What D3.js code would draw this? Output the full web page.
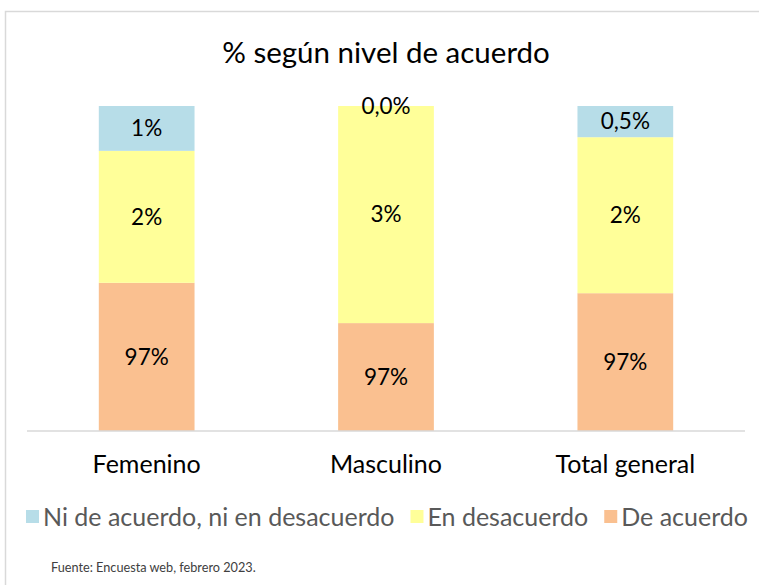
<!DOCTYPE html>
<html>
  <head>
    <meta charset="utf-8">
    <title>% según nivel de acuerdo</title>
    <script src="https://d3js.org/d3.v7.min.js"></script>
  </head>
  <body style="margin:0">
<style>
  body { background: #fff; }
  .frame { fill: none; stroke: #d9d9d9; stroke-width: 1.5; }
  .title { font-family: Lato, sans-serif; font-size: 29.5px; fill: #000; }
  .cat { font-family: Lato, sans-serif; font-size: 25px; fill: #000; }
  .lbl { font-family: Lato, sans-serif; font-size: 22.5px; fill: #000; }
  .legend text { font-family: Lato, sans-serif; font-size: 25px; fill: #595959; }
  .source { font-family: Lato, sans-serif; font-size: 12.7px; fill: #404040; }
</style>
<script>

  // data
  var categories = ["Femenino", "Masculino", "Total general"];
  var seriesNames = ["De acuerdo", "En desacuerdo", "Ni de acuerdo, ni en desacuerdo"];
  var deAcuerdo = [0.9728, 0.9666, 0.9712];
  var enDesacuerdo = [0.0203, 0.0334, 0.0240];
  var niNi = [0.0069, 0.0, 0.0048];
  // labels as printed on the chart
  var labelsDeAcuerdo = ["97%", "97%", "97%"];
  var labelsEnDesacuerdo = ["2%", "3%", "2%"];
  var labelsNiNi = ["1%", "0,0%", "0,5%"];
  var colors = ["#fac090", "#ffff99", "#b7dde8"];
  var legendOrder = [2, 1, 0];

  var w = 759, h = 585;

  var svg = d3.select("body").append("svg")
      .attr("width", w)
      .attr("height", h);

  // outer frame
  svg.append("rect")
      .attr("class", "frame")
      .attr("x", 5.5).attr("y", 11.5)
      .attr("width", 800).attr("height", 700);

  svg.append("text")
      .attr("class", "title")
      .attr("x", 386).attr("y", 63)
      .attr("text-anchor", "middle")
      .text("% según nivel de acuerdo");

  var rows = categories.map(function(c, i) {
    return {cat: c, a: deAcuerdo[i], d: enDesacuerdo[i], n: niNi[i]};
  });
  var labels = [labelsDeAcuerdo, labelsEnDesacuerdo, labelsNiNi];

  var stack = d3.stack().keys(["a", "d", "n"]);
  var layers = stack(rows);

  var x = d3.scaleBand()
      .domain(categories)
      .range([27, 745])
      .paddingInner(0.6)
      .paddingOuter(0.3);

  // the axis starts at 95 %
  var y = d3.scaleLinear()
      .domain([0.95, 1.0])
      .range([431, 106])
      .clamp(true);

  var g = svg.append("g");

  layers.forEach(function(layer, k) {
    g.selectAll("rect.s" + k)
        .data(layer)
      .enter().append("rect")
        .attr("class", "s" + k)
        .attr("x", function(d) { return x(d.data.cat); })
        .attr("width", x.bandwidth())
        .attr("y", function(d) { return y(d[1]); })
        .attr("height", function(d) { return y(d[0]) - y(d[1]); })
        .style("fill", colors[k]);
  });

  layers.forEach(function(layer, k) {
    g.selectAll("text.l" + k)
        .data(layer)
      .enter().append("text")
        .attr("class", "lbl")
        .attr("x", function(d) { return x(d.data.cat) + x.bandwidth() / 2; })
        .attr("y", function(d) { return (y(d[0]) + y(d[1])) / 2; })
        .attr("dy", "0.35em")
        .attr("text-anchor", "middle")
        .text(function(d, i) { return labels[k][i]; });
  });

  // category axis
  var xAxis = svg.append("g")
      .attr("transform", "translate(0,431)")
      .call(d3.axisBottom(x).tickSize(0).tickPadding(24));
  xAxis.select(".domain").attr("stroke", "#d9d9d9").attr("stroke-width", 1.5)
      .attr("d", "M27,0H745");
  xAxis.selectAll("text").attr("class", "cat").attr("font-family", null).attr("font-size", null);

  // legend
  var legend = svg.append("g").attr("class", "legend");
  var lx = 26;
  legendOrder.forEach(function(k) {
    var item = legend.append("g");
    item.append("rect")
        .attr("x", lx).attr("y", 510)
        .attr("width", 13).attr("height", 13)
        .style("fill", colors[k]);
    var t = item.append("text")
        .attr("x", lx + 17).attr("y", 526)
        .text(seriesNames[k]);
    lx += 17 + t.node().getComputedTextLength() + 16;
  });

  svg.append("text")
      .attr("class", "source")
      .attr("x", 51).attr("y", 572)
      .text("Fuente: Encuesta web, febrero 2023.");

</script>
  </body>
</html>
